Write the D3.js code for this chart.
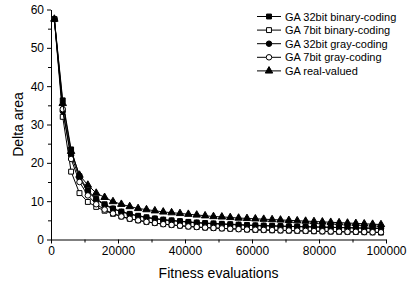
<!DOCTYPE html>
<html>
<head>
<meta charset="utf-8">
<script src="https://cdn.jsdelivr.net/npm/d3@7"></script>
<style>
body { margin: 0; background: #fff; }
text { font-family: "Liberation Sans", Arial, sans-serif; }
</style>
</head>
<body>
<svg id="chart"></svg>
<script>
// evaluation counts for each point
var evals = d3.range(40).map(function (i) { return 1000 + 2500 * i; });

var seriesNames = ['GA 32bit binary-coding', 'GA 7bit binary-coding', 'GA 32bit gray-coding', 'GA 7bit gray-coding', 'GA real-valued'];

var bin32 = [57.5, 36.3, 23.5, 16.5, 12.8, 10.6, 9.2, 8.1, 7.3, 6.7, 6.2, 5.8, 5.5, 5.2, 5.0, 4.8, 4.6, 4.45, 4.3, 4.2,
             4.1, 4.0, 3.9, 3.8, 3.7, 3.65, 3.6, 3.5, 3.45, 3.4, 3.35, 3.3, 3.25, 3.2, 3.15, 3.1, 3.05, 3.0, 3.0, 2.95];
var bin7 = [57.5, 32.0, 17.7, 12.1, 9.8, 8.5, 7.5, 6.7, 6.0, 5.4, 5.0, 4.6, 4.3, 4.0, 3.8, 3.6, 3.4, 3.25, 3.1, 3.0,
            2.9, 2.8, 2.7, 2.6, 2.5, 2.45, 2.4, 2.35, 2.3, 2.25, 2.2, 2.15, 2.1, 2.05, 2.0, 2.0, 1.95, 1.9, 1.85, 1.8];
var gray32 = [57.5, 33.5, 22.0, 16.0, 12.5, 10.4, 9.0, 8.0, 7.2, 6.6, 6.1, 5.7, 5.4, 5.1, 4.9, 4.7, 4.5, 4.35, 4.2, 4.1,
              4.0, 3.9, 3.8, 3.7, 3.6, 3.55, 3.5, 3.45, 3.4, 3.35, 3.3, 3.25, 3.2, 3.15, 3.1, 3.05, 3.0, 2.95, 2.9, 2.85];
var gray7 = [57.5, 34.0, 21.0, 15.0, 11.5, 9.2, 7.8, 6.8, 6.0, 5.4, 5.0, 4.6, 4.3, 4.0, 3.8, 3.6, 3.4, 3.25, 3.1, 3.0,
             2.9, 2.8, 2.7, 2.6, 2.55, 2.5, 2.45, 2.4, 2.35, 2.3, 2.25, 2.2, 2.15, 2.1, 2.05, 2.0, 2.0, 1.95, 1.9, 1.9];
var real = [57.5, 35.5, 23.0, 16.8, 14.2, 12.1, 11.0, 9.9, 9.2, 8.6, 8.1, 7.8, 7.5, 7.2, 7.0, 6.8, 6.6, 6.4, 6.2, 6.0,
            5.9, 5.75, 5.6, 5.5, 5.4, 5.3, 5.2, 5.1, 5.0, 4.9, 4.8, 4.7, 4.6, 4.5, 4.4, 4.3, 4.2, 4.1, 4.0, 3.9];

var xTicks = [0, 20000, 40000, 60000, 80000, 100000];
var yTicks = [0, 10, 20, 30, 40, 50, 60];

var width = 409, height = 285;
var margin = {top: 9.5, right: 23, bottom: 45.5, left: 51};
var innerW = width - margin.left - margin.right;
var innerH = height - margin.top - margin.bottom;

var svg = d3.select('#chart').attr('width', width).attr('height', height);
var chart = svg.append('g').attr('transform', 'translate(' + margin.left + ',' + margin.top + ')');

var x = d3.scaleLinear().domain([0, 100000]).range([0, innerW]);
var y = d3.scaleLinear().domain([0, 60]).range([innerH, 0]);

// minor ticks
chart.append('g').attr('transform', 'translate(0,' + innerH + ')')
  .call(d3.axisBottom(x).tickValues(d3.range(10000, 100000, 20000)).tickSize(3).tickFormat(''))
  .call(function (g) { g.select('.domain').remove(); });
chart.append('g')
  .call(d3.axisLeft(y).tickValues(d3.range(5, 60, 10)).tickSize(3).tickFormat(''))
  .call(function (g) { g.select('.domain').remove(); });

var xAxis = chart.append('g').attr('transform', 'translate(0,' + innerH + ')')
  .call(d3.axisBottom(x).tickValues(xTicks).tickFormat(d3.format('d')).tickSize(4).tickSizeOuter(0).tickPadding(3));
var yAxis = chart.append('g')
  .call(d3.axisLeft(y).tickValues(yTicks).tickFormat(d3.format('d')).tickSize(4).tickSizeOuter(0).tickPadding(3));
[xAxis, yAxis].forEach(function (g) {
  g.selectAll('text').style('font-size', '12px').attr('fill', '#000');
  g.selectAll('line, path').attr('stroke', '#000');
});

svg.append('text').attr('x', margin.left + innerW / 2).attr('y', 278)
  .attr('text-anchor', 'middle').style('font-size', '14px').text('Fitness evaluations');
svg.append('text').attr('transform', 'translate(23,' + (margin.top + innerH / 2) + ') rotate(-90)')
  .attr('text-anchor', 'middle').style('font-size', '14px').text('Delta area');

var series = [
  {name: seriesNames[0], values: bin32, shape: d3.symbolSquare, size: 24, fill: '#000'},
  {name: seriesNames[1], values: bin7, shape: d3.symbolSquare, size: 24, fill: '#fff'},
  {name: seriesNames[2], values: gray32, shape: d3.symbolCircle, size: 24, fill: '#000'},
  {name: seriesNames[3], values: gray7, shape: d3.symbolCircle, size: 24, fill: '#fff'},
  {name: seriesNames[4], values: real, shape: d3.symbolTriangle, size: 24, fill: '#000'}
];

var line = d3.line().x(function (d) { return x(d[0]); }).y(function (d) { return y(d[1]); });

series.forEach(function (s) {
  var pts = evals.map(function (e, i) { return [e, s.values[i]]; });
  chart.append('path').datum(pts).attr('d', line)
    .attr('fill', 'none').attr('stroke', '#000').attr('stroke-width', 1);
  chart.selectAll(null).data(pts).enter().append('path')
    .attr('d', d3.symbol().type(s.shape).size(s.size))
    .attr('transform', function (d) { return 'translate(' + x(d[0]) + ',' + y(d[1]) + ')'; })
    .attr('fill', s.fill).attr('stroke', '#000').attr('stroke-width', 1);
});

// legend
var legend = svg.append('g').attr('transform', 'translate(257,16.5)');
series.forEach(function (s, i) {
  var g = legend.append('g').attr('transform', 'translate(0,' + (i * 13.6) + ')');
  g.append('line').attr('x1', 0).attr('x2', 24).attr('y1', 0).attr('y2', 0).attr('stroke', '#000');
  g.append('path').attr('d', d3.symbol().type(s.shape).size(s.size))
    .attr('transform', 'translate(12,0)').attr('fill', s.fill).attr('stroke', '#000');
  g.append('text').attr('x', 28).attr('y', 4).style('font-size', '11px').text(s.name);
});
</script>
</body>
</html>
